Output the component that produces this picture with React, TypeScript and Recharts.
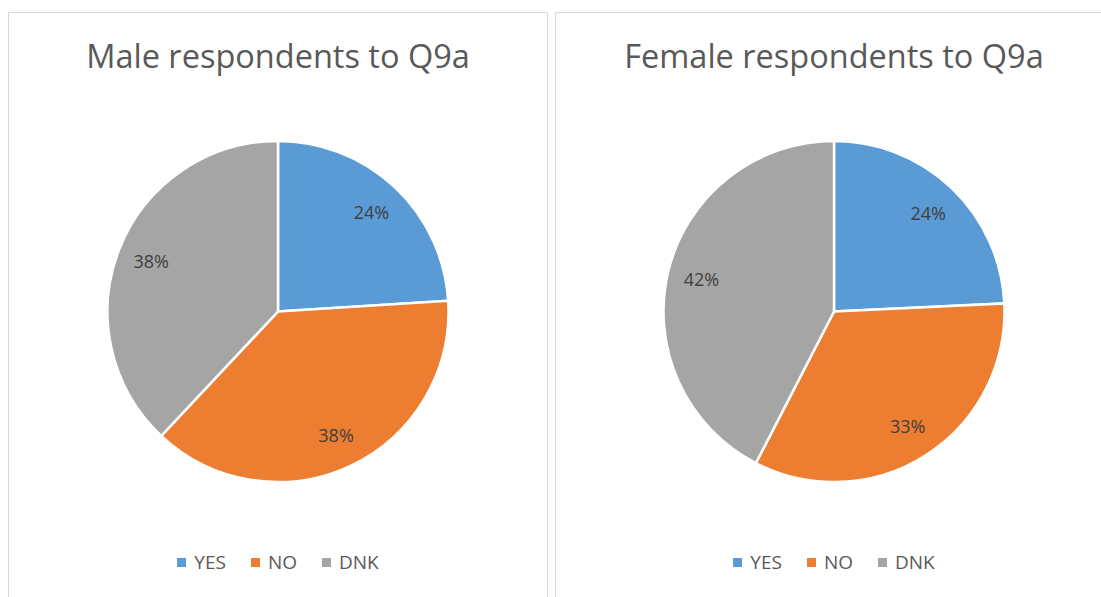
import React from "react";
import { PieChart, Pie, Cell, Legend } from "recharts";

const categories = ["YES", "NO", "DNK"];
const maleValues = [24, 38, 38];
const femaleValues = [24, 33, 42];
const colors = ["#5B9BD5", "#ED7D31", "#A5A5A5"];

const FONT = "'Open Sans', 'Noto Sans', sans-serif";
const RAD = Math.PI / 180;

function renderLabel(props: any) {
  const { cx, cy, midAngle, outerRadius, percent } = props;
  const r = outerRadius * 0.8;
  const x = cx + r * Math.cos(-midAngle * RAD);
  const y = cy + r * Math.sin(-midAngle * RAD);
  return (
    <text
      x={x}
      y={y}
      textAnchor="middle"
      dominantBaseline="central"
      fill="#404040"
      fontSize={18}
      fontFamily={FONT}
    >
      {`${Math.round(percent * 100)}%`}
    </text>
  );
}

function LegendContent() {
  return (
    <div
      style={{
        display: "flex",
        justifyContent: "center",
        gap: 25,
        fontFamily: FONT,
        fontSize: 19,
        color: "#595959",
      }}
    >
      {categories.map((c, i) => (
        <span key={c} style={{ display: "flex", alignItems: "center", gap: 8 }}>
          <span
            style={{ width: 9, height: 9, background: colors[i], display: "inline-block" }}
          />
          {c}
        </span>
      ))}
    </div>
  );
}

interface PanelProps {
  title: string;
  values: number[];
  left: number;
  width: number;
  cx: number;
}

function Panel({ title, values, left, width, cx }: PanelProps) {
  const data = categories.map((name, i) => ({ name, value: values[i] }));
  return (
    <div
      style={{
        position: "absolute",
        left,
        top: 12,
        width,
        height: 600,
        border: "1px solid #d9d9d9",
        background: "#fff",
        boxSizing: "border-box",
      }}
    >
      <div
        style={{
          position: "absolute",
          top: 20,
          left: 0,
          width: cx * 2,
          textAlign: "center",
          fontFamily: FONT,
          fontSize: 32.5,
          color: "#595959",
        }}
      >
        {title}
      </div>
      <div style={{ position: "absolute", left: 0, top: 0 }}>
        <PieChart width={width} height={585} margin={{ top: 0, right: 0, bottom: 0, left: 0 }}>
          <Pie
            data={data}
            dataKey="value"
            nameKey="name"
            cx={cx}
            cy={298.5}
            outerRadius={170.5}
            startAngle={90}
            endAngle={-270}
            stroke="#ffffff"
            strokeWidth={2.5}
            label={renderLabel}
            labelLine={false}
            isAnimationActive={false}
          >
            {data.map((d, i) => (
              <Cell key={d.name} fill={colors[i]} />
            ))}
          </Pie>
          <Legend
            content={<LegendContent />}
            wrapperStyle={{ position: "absolute", top: 536, left: 0, width: cx * 2 }}
          />
        </PieChart>
      </div>
    </div>
  );
}

export default function App() {
  return (
    <div
      style={{
        position: "absolute",
        left: 0,
        top: 0,
        width: 1101,
        height: 597,
        overflow: "hidden",
        background: "#fff",
      }}
    >
      <Panel title="Male respondents to Q9a" values={maleValues} left={8} width={540} cx={269} />
      <Panel title="Female respondents to Q9a" values={femaleValues} left={555} width={560} cx={278} />
    </div>
  );
}
